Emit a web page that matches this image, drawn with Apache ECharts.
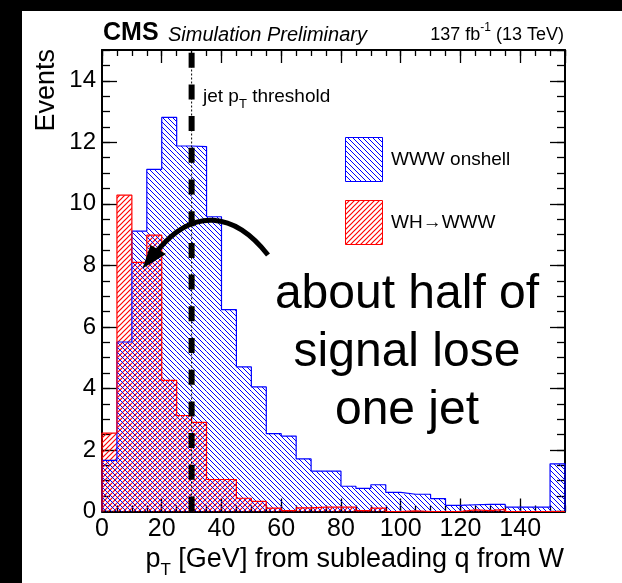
<!DOCTYPE html>
<html>
<head>
<meta charset="utf-8">
<script src="https://cdn.jsdelivr.net/npm/echarts@6/dist/echarts.min.js"></script>
<style>
  html, body { margin: 0; padding: 0; background: #000; width: 622px; height: 583px; overflow: hidden; }
  #paper { position: absolute; left: 22px; top: 11px; width: 600px; height: 572px; background: #fff; }
  #chart { position: absolute; left: 0; top: 0; width: 622px; height: 583px; }
</style>
</head>
<body>
<div id="paper"></div>
<div id="chart"></div>
<script>
// ---- histogram content: 5 GeV bins, last bin holds the overflow ----
const binLow = [0, 5, 10, 15, 20, 25, 30, 35, 40, 45, 50, 55, 60, 65, 70, 75,
                80, 85, 90, 95, 100, 105, 110, 115, 120, 125, 130, 135, 140, 145, 150];
const binWidth = 5;
const wwwOnshell = [1.66, 5.51, 9.11, 11.12, 12.81, 11.88, 11.86, 9.58, 6.56, 4.70,
                    4.05, 2.53, 2.45, 1.71, 1.31, 1.31, 0.82, 0.75, 0.87, 0.62,
                    0.56, 0.56, 0.42, 0.20, 0.22, 0.23, 0.23, 0.14, 0.14, 0.14, 1.55];
const whToWWW = [2.55, 10.28, 8.10, 8.98, 4.26, 3.12, 2.90, 1.04, 1.04, 0.43,
                 0.33, 0.11, 0.03, 0.12, 0.14, 0.14, 0.14, 0.03, 0.11, 0.00,
                 0.02, 0.00, 0.00, 0.00, 0.05, 0.03, 0.07, 0.00, 0.00, 0.00, 0.00];
const seriesNames = ['WWW onshell', 'WH\u2192WWW'];
const jetPtThreshold = 30;

// ---- axes ----
const xRange = [0, 155];
const yRange = [0, 15];
const xMajorStep = 20, xMinorStep = 5;
const yMajorStep = 2, yMinorStep = 0.5;

// ---- texts ----
const yTitle = 'Events';
const bigNote = ['about half of', 'signal lose', 'one jet'];

const FONT = '"Liberation Sans", Arial, Helvetica, sans-serif';
const BLUE = '#0000ff', RED = '#ff0000';

// diagonal hatch pattern tiles (anti-aliased lines, period p)
function hatch(color, backslash, p, w) {
  const c = document.createElement('canvas');
  c.width = p; c.height = p;
  const g = c.getContext('2d');
  g.strokeStyle = color;
  g.lineWidth = w;
  g.beginPath();
  for (let k = -1; k <= 1; k++) {
    if (backslash) {
      g.moveTo(k * p - 1, -1);
      g.lineTo(k * p + p + 1, p + 1);
    } else {
      g.moveTo(k * p - 1, p + 1);
      g.lineTo(k * p + p + 1, -1);
    }
  }
  g.stroke();
  return c;
}
const bluePattern = { image: hatch(BLUE, true, 5, 1.0), repeat: 'repeat' };
const redPattern = { image: hatch(RED, false, 5, 1.15), repeat: 'repeat' };

// text measuring for runs with sub/superscripts
const measureCtx = document.createElement('canvas').getContext('2d');
function fontOf(p) { return (p.style || '') + ' ' + p.size + 'px ' + FONT; }
function textRun(parts, x, y, align) {
  const widths = parts.map(p => { measureCtx.font = fontOf(p); return measureCtx.measureText(p.t).width; });
  const total = widths.reduce((a, b) => a + b, 0);
  let cx = align === 'right' ? x - total : x;
  return parts.map((p, i) => {
    const el = {
      type: 'text', z: 20, silent: true,
      style: { text: p.t, x: cx, y: y + (p.dy || 0), font: fontOf(p), fill: '#000',
               align: 'left', verticalAlign: 'middle' }
    };
    cx += widths[i];
    return el;
  });
}

const grid = { left: 102, top: 50, width: 463, height: 461.5, outerBoundsMode: 'none', containLabel: false };

function axisBase(extra) {
  return Object.assign({
    type: 'value', splitLine: { show: false }, axisLine: { show: false, onZero: false },
    axisLabel: { show: false }, axisPointer: { show: false }
  }, extra);
}
const majorTick = (len) => ({ show: true, inside: true, length: len, lineStyle: { color: '#000', width: 1.3 } });
const frameLine = { show: true, onZero: false, lineStyle: { color: '#000', width: 2 } };

const xAxes = [
  axisBase({ gridIndex: 0, position: 'bottom', min: xRange[0], max: xRange[1], interval: xMajorStep,
    axisLine: frameLine, axisTick: majorTick(13),
    axisLabel: { show: true, fontSize: 25, fontFamily: FONT, color: '#000', margin: 5, showMaxLabel: false } }),
  axisBase({ gridIndex: 0, position: 'top', min: xRange[0], max: xRange[1], interval: xMajorStep,
    axisLine: frameLine, axisTick: majorTick(13) }),
  axisBase({ gridIndex: 1, position: 'bottom', min: xRange[0], max: xRange[1], interval: xMinorStep,
    axisTick: majorTick(6) }),
  axisBase({ gridIndex: 1, position: 'top', min: xRange[0], max: xRange[1], interval: xMinorStep,
    axisTick: majorTick(6) })
];
const yAxes = [
  axisBase({ gridIndex: 0, position: 'left', min: yRange[0], max: yRange[1], interval: yMajorStep,
    axisLine: frameLine, axisTick: majorTick(15),
    axisLabel: { show: true, fontSize: 24, fontFamily: FONT, color: '#000', margin: 6, showMaxLabel: false } }),
  axisBase({ gridIndex: 0, position: 'right', min: yRange[0], max: yRange[1], interval: yMajorStep,
    axisLine: frameLine, axisTick: majorTick(15) }),
  axisBase({ gridIndex: 1, position: 'left', min: yRange[0], max: yRange[1], interval: yMinorStep,
    axisTick: majorTick(8) }),
  axisBase({ gridIndex: 1, position: 'right', min: yRange[0], max: yRange[1], interval: yMinorStep,
    axisTick: majorTick(8) })
];

function histFill(name, values, pattern) {
  return {
    type: 'custom', name, xAxisIndex: 0, yAxisIndex: 0, silent: true, animation: false, z: 2,
    data: binLow.map((x, i) => [x, x + binWidth, values[i]]),
    encode: { x: [0, 1], y: 2 },
    renderItem(params, api) {
      const a = api.coord([api.value(0), api.value(2)]);
      const b = api.coord([api.value(1), 0]);
      return { type: 'rect', shape: { x: a[0], y: a[1], width: b[0] - a[0], height: b[1] - a[1] },
               style: { fill: pattern } };
    }
  };
}
function histOutline(values, color) {
  const last = binLow[binLow.length - 1] + binWidth;
  const pts = [[binLow[0], 0]];
  binLow.forEach((x, i) => pts.push([x, values[i]]));
  pts.push([last, values[values.length - 1]]);
  pts.push([last, 0]);
  return { type: 'line', xAxisIndex: 0, yAxisIndex: 0, data: pts, step: 'end', symbol: 'none',
           silent: true, animation: false, z: 3, lineStyle: { color, width: 1.2 } };
}
function thresholdLine(width, dash, z) {
  return { type: 'line', xAxisIndex: 0, yAxisIndex: 0, symbol: 'none', silent: true, animation: false, z,
           data: [[jetPtThreshold, yRange[0]], [jetPtThreshold, yRange[1]]],
           lineStyle: { color: '#000', width, type: dash } };
}

const graphics = [];
// header
graphics.push(...textRun([{ t: 'CMS', size: 25, style: 'bold' }], 103, 33.5, 'left'));
graphics.push(...textRun([{ t: 'Simulation Preliminary', size: 20, style: 'italic' }], 168, 35, 'left'));
graphics.push(...textRun([{ t: '137 fb', size: 18 }, { t: '-1', size: 12, dy: -7 }, { t: ' (13 TeV)', size: 18 }], 564, 35, 'right'));
// axis titles
graphics.push(...textRun([{ t: 'p', size: 27 }, { t: 'T', size: 17, dy: 10 },
  { t: ' [GeV] from subleading q from W', size: 27 }], 564, 560, 'right'));
graphics.push({ type: 'text', z: 20, silent: true, x: 47, y: 49, rotation: Math.PI / 2,
  style: { text: yTitle, font: '27px ' + FONT, fill: '#000', align: 'right', verticalAlign: 'middle' } });
// threshold label
graphics.push(...textRun([{ t: 'jet p', size: 19 }, { t: 'T', size: 13, dy: 7 }, { t: ' threshold', size: 19 }], 203, 97, 'left'));
// legend
graphics.push({ type: 'rect', z: 20, silent: true, shape: { x: 345.5, y: 137.5, width: 37, height: 44 },
  style: { fill: bluePattern, stroke: BLUE, lineWidth: 1 } });
graphics.push({ type: 'rect', z: 20, silent: true, shape: { x: 345.5, y: 200.5, width: 37, height: 44 },
  style: { fill: redPattern, stroke: RED, lineWidth: 1 } });
graphics.push(...textRun([{ t: seriesNames[0], size: 19 }], 391, 160, 'left'));
graphics.push(...textRun([{ t: seriesNames[1], size: 19 }], 391, 223, 'left'));
// annotation
bigNote.forEach((line, i) => {
  graphics.push({ type: 'text', z: 20, silent: true,
    style: { text: line, x: 407, y: 294.5 + 58 * i, font: '48px ' + FONT, fill: '#000',
             align: 'center', verticalAlign: 'middle' } });
});
graphics.push({ type: 'bezierCurve', z: 21, silent: true,
  shape: { x1: 268, y1: 255, cpx1: 234, cpy1: 211.5, cpx2: 193, cpy2: 207.5, x2: 158, y2: 250 },
  style: { stroke: '#000', lineWidth: 5, fill: null } });
graphics.push({ type: 'polygon', z: 21, silent: true,
  shape: { points: [[142.5, 268.5], [150.5, 245], [166, 254]] },
  style: { fill: '#000' } });

const chart = echarts.init(document.getElementById('chart'), null, { renderer: 'canvas' });
chart.setOption({
  backgroundColor: 'transparent',
  animation: false,
  grid: [grid, Object.assign({}, grid)],
  xAxis: xAxes,
  yAxis: yAxes,
  series: [
    histFill(seriesNames[1], whToWWW, redPattern),
    histFill(seriesNames[0], wwwOnshell, bluePattern),
    histOutline(wwwOnshell, BLUE),
    histOutline(whToWWW, RED),
    thresholdLine(1, [2, 2], 4),
    thresholdLine(6, [15, 16.7], 5)
  ],
  graphic: graphics
});
</script>
